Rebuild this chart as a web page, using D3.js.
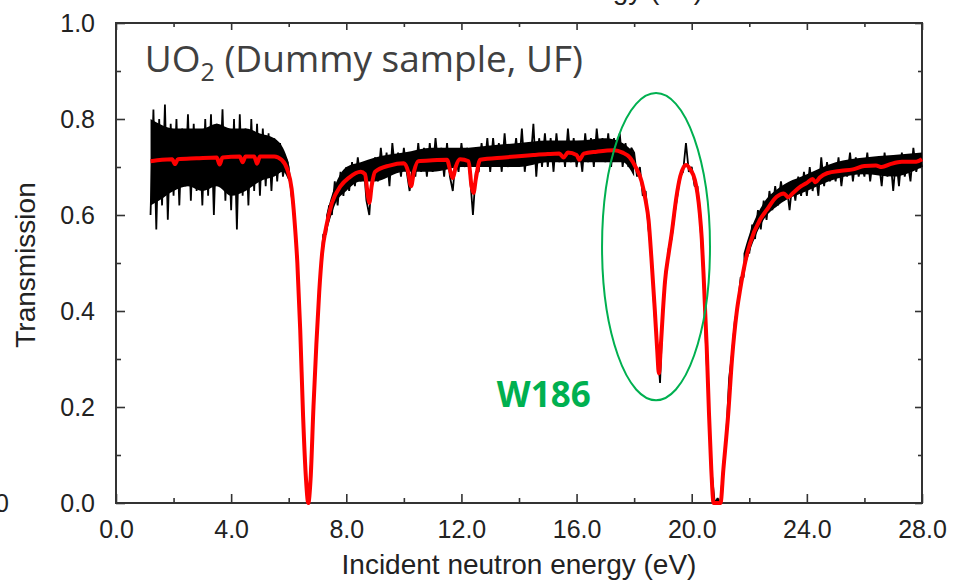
<!DOCTYPE html>
<html>
<head>
<meta charset="utf-8">
<script src="https://cdn.jsdelivr.net/npm/d3@7"></script>
<style>
  body { margin: 0; background: #fff; }
  svg { display: block; }
  .tick text { font-family: "Liberation Sans", Arial, sans-serif; fill: #222; }
</style>
</head>
<body>
<svg id="chart"></svg>
<script>
// measured transmission, sampled every 0.1 eV starting at 1.2 eV
const measStart = 1.2;
const measStep = 0.1;
const measT = [
  0.60, 0.82, 0.57, 0.80, 0.62, 0.83, 0.59, 0.79,
  0.64, 0.80, 0.62, 0.78, 0.66, 0.81, 0.63, 0.79, 0.65, 0.77,
  0.62, 0.80, 0.64, 0.81, 0.60, 0.79, 0.66, 0.82, 0.63, 0.78,
  0.61, 0.80, 0.57, 0.81, 0.64, 0.78, 0.62, 0.80, 0.65, 0.79,
  0.64, 0.78, 0.66, 0.77, 0.65, 0.76, 0.67, 0.75, 0.68, 0.72,
  0.70, 0.64, 0.60, 0.49, 0.37, 0.17, 0.05, 0.01, 0.11, 0.25,
  0.38, 0.47, 0.56, 0.56, 0.62, 0.60, 0.67, 0.62, 0.69, 0.64,
  0.70, 0.65, 0.71, 0.66, 0.72, 0.67, 0.71, 0.63, 0.60, 0.69,
  0.72, 0.67, 0.74, 0.68, 0.73, 0.66, 0.75, 0.69, 0.73, 0.68,
  0.74, 0.69, 0.65, 0.70, 0.68, 0.75, 0.69, 0.74, 0.68, 0.75,
  0.69, 0.76, 0.70, 0.74, 0.68, 0.75, 0.68, 0.65, 0.72, 0.69,
  0.75, 0.70, 0.74, 0.68, 0.60, 0.69, 0.69, 0.75, 0.70, 0.76,
  0.69, 0.76, 0.70, 0.75, 0.69, 0.77, 0.70, 0.74, 0.71, 0.76,
  0.70, 0.78, 0.69, 0.75, 0.71, 0.79, 0.68, 0.76, 0.70, 0.77,
  0.70, 0.76, 0.69, 0.77, 0.71, 0.75, 0.70, 0.78, 0.71, 0.76,
  0.70, 0.74, 0.69, 0.77, 0.71, 0.76, 0.70, 0.78, 0.72, 0.76,
  0.71, 0.77, 0.70, 0.76, 0.72, 0.77, 0.70, 0.75, 0.70, 0.74,
  0.73, 0.68, 0.70, 0.64, 0.65, 0.57, 0.52, 0.40, 0.33, 0.25,
  0.41, 0.47, 0.53, 0.55, 0.60, 0.64, 0.68, 0.69, 0.75, 0.69,
  0.70, 0.66, 0.66, 0.58, 0.48, 0.32, 0.19, 0.06, 0.00, 0.01,
  0.00, 0.08, 0.14, 0.26, 0.31, 0.38, 0.41, 0.47, 0.47, 0.53,
  0.52, 0.58, 0.55, 0.61, 0.57, 0.63, 0.59, 0.65, 0.61, 0.66,
  0.62, 0.67, 0.63, 0.66, 0.61, 0.67, 0.63, 0.68, 0.64, 0.69,
  0.64, 0.70, 0.65, 0.69, 0.64, 0.72, 0.66, 0.71, 0.67, 0.70,
  0.67, 0.72, 0.66, 0.71, 0.68, 0.73, 0.67, 0.72, 0.68, 0.71,
  0.68, 0.73, 0.67, 0.72, 0.69, 0.71, 0.66, 0.73, 0.68, 0.72,
  0.65, 0.72, 0.66, 0.73, 0.68, 0.71, 0.67, 0.74, 0.69, 0.72,
  0.70
];

// dense core of the measured scatter (lower / upper edge), one list per energy range
const bandE1 = [1.2, 1.5, 2.0, 2.5, 3.0, 3.5, 4.0, 4.5, 5.0, 5.5, 5.8, 6.0];
const bandLo1 = [0.62, 0.63, 0.65, 0.66, 0.65, 0.66, 0.64, 0.65, 0.67, 0.68, 0.69, 0.67];
const bandHi1 = [0.80, 0.79, 0.78, 0.78, 0.78, 0.79, 0.78, 0.78, 0.77, 0.76, 0.74, 0.71];
const bandE2 = [7.3, 7.6, 8.0, 8.5, 9.0, 10.0, 11.0, 12.0, 13.0, 14.0, 15.0, 16.0, 17.0, 17.6, 18.0];
const bandLo2 = [0.56, 0.62, 0.65, 0.67, 0.67, 0.69, 0.69, 0.70, 0.70, 0.70, 0.71, 0.71, 0.71, 0.71, 0.68];
const bandHi2 = [0.60, 0.66, 0.70, 0.71, 0.72, 0.73, 0.74, 0.74, 0.745, 0.75, 0.755, 0.755, 0.76, 0.75, 0.73];
const bandE3 = [21.8, 22.0, 22.5, 23.0, 24.0, 25.0, 26.0, 27.0, 28.0];
const bandLo3 = [0.48, 0.52, 0.59, 0.62, 0.65, 0.675, 0.685, 0.68, 0.70];
const bandHi3 = [0.52, 0.56, 0.625, 0.655, 0.685, 0.71, 0.72, 0.725, 0.73];

// fitted curve (energy in eV, transmission)
const fitE = [
  1.2, 1.6, 1.95, 2.05, 2.15, 2.8, 3.5, 3.6, 3.7, 4.3, 4.4, 4.5, 4.8, 4.9, 5.0, 5.5, 5.75, 5.95,
  6.1, 6.2, 6.3, 6.4, 6.5, 6.6, 6.68, 6.76, 6.86, 6.96, 7.06, 7.16, 7.3, 7.5, 7.8, 8.1, 8.5,
  8.65, 8.75, 8.8, 8.88, 9.0, 9.5, 10.0, 10.15, 10.25, 10.35, 10.5, 11.0, 11.5, 11.62, 11.7,
  11.8, 11.95, 12.25, 12.35, 12.42, 12.5, 12.65, 13.5, 14.5, 15.0, 15.4, 15.55, 15.7, 16.0,
  16.1, 16.25, 16.7, 17.3, 17.6, 17.85, 18.05, 18.26, 18.4, 18.5, 18.6, 18.72, 18.8, 18.86,
  18.93, 19.0, 19.07, 19.2, 19.3, 19.47, 19.6, 19.8, 19.95, 20.11, 20.2, 20.28, 20.35, 20.42,
  20.52, 20.6, 20.68, 20.76, 21.0, 21.1, 21.27, 21.4, 21.56, 21.67, 21.9, 22.02, 22.37, 22.6,
  22.95, 23.2, 23.35, 23.5, 23.8, 24.0, 24.2, 24.3, 24.45, 24.7, 25.2, 25.6, 26.0, 26.4, 26.6,
  26.9, 27.3, 27.8, 28.0
];
const fitT = [
  0.712, 0.715, 0.716, 0.706, 0.716, 0.718, 0.720, 0.705, 0.720, 0.722, 0.710, 0.722, 0.722, 0.707, 0.722, 0.722, 0.715, 0.695,
  0.655, 0.59, 0.50, 0.36, 0.18, 0.05, 0.0, 0.05, 0.20, 0.33, 0.44, 0.52, 0.575, 0.625, 0.66, 0.678, 0.69,
  0.685, 0.64, 0.625, 0.66, 0.69, 0.703, 0.708, 0.69, 0.66, 0.69, 0.712, 0.714, 0.715, 0.69, 0.677,
  0.70, 0.716, 0.712, 0.66, 0.646, 0.675, 0.715, 0.72, 0.725, 0.727, 0.728, 0.72, 0.73, 0.725,
  0.715, 0.728, 0.732, 0.735, 0.73, 0.72, 0.70, 0.67, 0.63, 0.59, 0.51, 0.40, 0.32, 0.27,
  0.33, 0.40, 0.46, 0.52, 0.56, 0.638, 0.68, 0.704, 0.695, 0.673, 0.645, 0.604, 0.55, 0.465,
  0.326, 0.187, 0.07, 0.0, 0.0, 0.07, 0.187, 0.30, 0.396, 0.44, 0.513, 0.54, 0.59, 0.61,
  0.638, 0.645, 0.637, 0.645, 0.66, 0.667, 0.675, 0.668, 0.678, 0.687, 0.692, 0.695, 0.702, 0.703, 0.70,
  0.706, 0.711, 0.711, 0.716
];

const xMajor = [0, 4, 8, 12, 16, 20, 24, 28];
const xMinor = [2, 6, 10, 14, 18, 22, 26];
const yMajor = [0, 0.2, 0.4, 0.6, 0.8, 1.0];
const yMinor = [0.1, 0.3, 0.5, 0.7, 0.9];

const width = 959, height = 581;
const margin = {top: 23, right: 37, bottom: 78, left: 116};
const innerW = width - margin.left - margin.right;
const innerH = height - margin.top - margin.bottom;

const svg = d3.select('#chart')
  .attr('width', width)
  .attr('height', height);

const x = d3.scaleLinear().domain([0, 28]).range([margin.left, margin.left + innerW]);
const y = d3.scaleLinear().domain([0, 1]).range([margin.top + innerH, margin.top]);

const fmt = d3.format('.1f');
const axisColor = '#333';

// bottom axis
svg.append('g')
  .attr('transform', `translate(0, ${y(0)})`)
  .call(d3.axisBottom(x).tickValues(xMajor).tickFormat(fmt).tickSizeInner(-9).tickSizeOuter(0).tickPadding(17));
svg.append('g')
  .attr('transform', `translate(0, ${y(0)})`)
  .call(d3.axisBottom(x).tickValues(xMinor).tickFormat('').tickSizeInner(-5).tickSizeOuter(0));
// top axis (ticks only)
svg.append('g')
  .attr('transform', `translate(0, ${y(1)})`)
  .call(d3.axisTop(x).tickValues(xMajor).tickFormat('').tickSizeInner(-7).tickSizeOuter(0));
svg.append('g')
  .attr('transform', `translate(0, ${y(1)})`)
  .call(d3.axisTop(x).tickValues(xMinor).tickFormat('').tickSizeInner(-4).tickSizeOuter(0));
// left axis
svg.append('g')
  .attr('transform', `translate(${x(0)}, 0)`)
  .call(d3.axisLeft(y).tickValues(yMajor).tickFormat(fmt).tickSizeInner(-9).tickSizeOuter(0).tickPadding(21));
svg.append('g')
  .attr('transform', `translate(${x(0)}, 0)`)
  .call(d3.axisLeft(y).tickValues(yMinor).tickFormat('').tickSizeInner(-5).tickSizeOuter(0));
// right axis (ticks only)
svg.append('g')
  .attr('transform', `translate(${x(28)}, 0)`)
  .call(d3.axisRight(y).tickValues(yMajor).tickFormat('').tickSizeInner(-7).tickSizeOuter(0));
svg.append('g')
  .attr('transform', `translate(${x(28)}, 0)`)
  .call(d3.axisRight(y).tickValues(yMinor).tickFormat('').tickSizeInner(-4).tickSizeOuter(0));

svg.selectAll('.domain').remove();
svg.selectAll('.tick line').attr('stroke', axisColor).attr('stroke-width', 1.6);
svg.selectAll('.tick text').attr('font-size', 25);

// frame
svg.append('rect')
  .attr('x', x(0)).attr('y', y(1))
  .attr('width', x(28) - x(0)).attr('height', y(0) - y(1))
  .attr('fill', 'none')
  .attr('stroke', axisColor)
  .attr('stroke-width', 2);

// measured data: dense core + individual points
const band = d3.area()
  .curve(d3.curveMonotoneX)
  .x(d => x(d.e))
  .y0(d => y(d.lo))
  .y1(d => y(d.hi));
[[bandE1, bandLo1, bandHi1], [bandE2, bandLo2, bandHi2], [bandE3, bandLo3, bandHi3]].forEach(([es, los, his]) => {
  svg.append('path')
    .datum(es.map((e, i) => ({e: e, lo: los[i], hi: his[i]})))
    .attr('fill', '#000')
    .attr('d', band);
});

const measured = measT.map((t, i) => ({e: measStart + i * measStep, t: t}));
svg.append('path')
  .datum(measured)
  .attr('fill', 'none')
  .attr('stroke', '#000')
  .attr('stroke-width', 1.8)
  .attr('stroke-linejoin', 'bevel')
  .attr('d', d3.line().x(d => x(d.e)).y(d => y(d.t)));

// fit
const fit = fitE.map((e, i) => ({e: e, t: fitT[i]}));
svg.append('path')
  .datum(fit)
  .attr('fill', 'none')
  .attr('stroke', '#ff0000')
  .attr('stroke-width', 4)
  .attr('stroke-linejoin', 'round')
  .attr('d', d3.line().curve(d3.curveMonotoneX).x(d => x(d.e)).y(d => y(d.t)));

// axis titles
svg.append('text')
  .attr('x', x(14)).attr('y', 574)
  .attr('text-anchor', 'middle')
  .attr('font-family', '"Liberation Sans", Arial, sans-serif')
  .attr('font-size', 28)
  .attr('fill', '#222')
  .text('Incident neutron energy (eV)');

// cropped title from the figure above
svg.append('text')
  .attr('x', 703).attr('y', -1)
  .attr('text-anchor', 'end')
  .attr('font-family', '"Liberation Sans", Arial, sans-serif')
  .attr('font-size', 28)
  .attr('fill', '#222')
  .text('Incident neutron energy (eV)');

svg.append('text')
  .attr('transform', `translate(35, ${y(0.5) + 2}) rotate(-90)`)
  .attr('text-anchor', 'middle')
  .attr('font-family', '"Liberation Sans", Arial, sans-serif')
  .attr('font-size', 28)
  .attr('fill', '#222')
  .text('Transmission');

// stray label cut at the left edge
svg.append('text')
  .attr('x', 9).attr('y', y(0) + 9)
  .attr('text-anchor', 'end')
  .attr('font-family', '"Liberation Sans", Arial, sans-serif')
  .attr('font-size', 25)
  .attr('fill', '#222')
  .text('0');

// annotations
const sample = svg.append('text')
  .attr('x', x(1.0)).attr('y', y(0.898))
  .attr('font-family', '"Open Sans", "Noto Sans", sans-serif')
  .attr('font-size', 37)
  .attr('fill', '#404040');
sample.append('tspan').text('UO');
sample.append('tspan').attr('font-size', 25).attr('dy', 9).text('2');
sample.append('tspan').attr('dy', -9).text(' (Dummy sample, UF)');

svg.append('text')
  .attr('x', x(13.23)).attr('y', y(0.2))
  .attr('font-family', '"Open Sans", "Noto Sans", sans-serif')
  .attr('font-weight', 'bold')
  .attr('font-size', 35)
  .attr('fill', '#00b050')
  .text('W186');

svg.append('ellipse')
  .attr('cx', x(18.76)).attr('cy', y(0.534))
  .attr('rx', x(1.875) - x(0)).attr('ry', y(0) - y(0.32))
  .attr('fill', 'none')
  .attr('stroke', '#00b050')
  .attr('stroke-width', 2);
</script>
</body>
</html>
